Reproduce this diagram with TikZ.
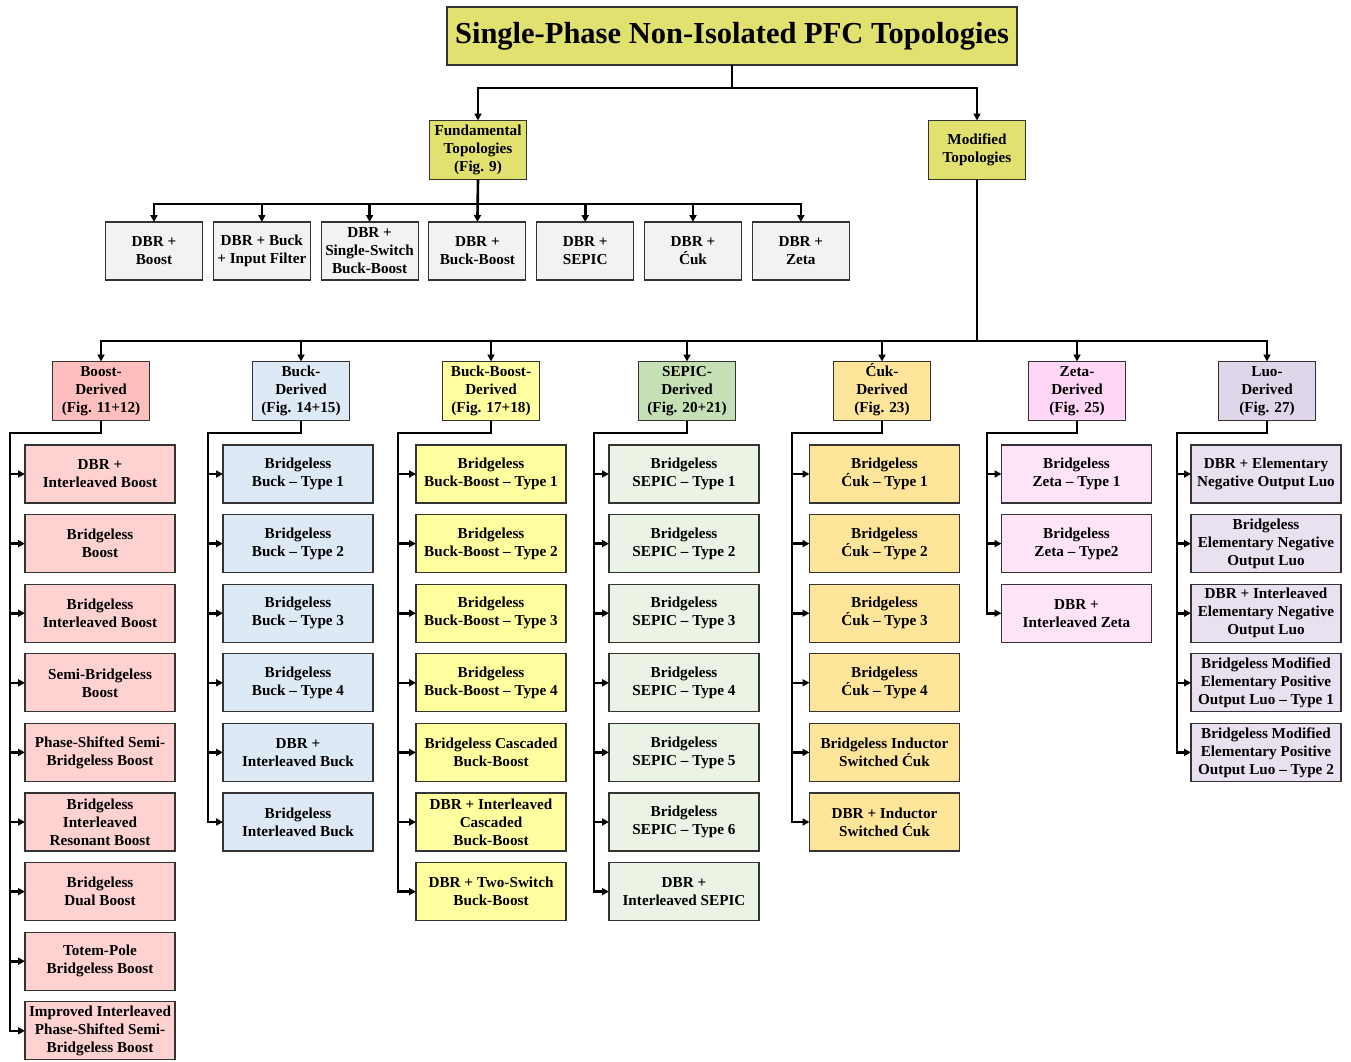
\documentclass[tikz,border=0pt]{standalone}
\usepackage{fontspec}
\setmainfont{Liberation Serif}
\usepackage{xcolor}
\usetikzlibrary{arrows.meta,positioning}

\definecolor{topfill}{RGB}{225,225,112}
\definecolor{fundfill}{RGB}{242,242,242}
\definecolor{boostcat}{RGB}{255,190,190}
\definecolor{boostfill}{RGB}{255,210,210}
\definecolor{buckfill}{RGB}{222,233,246}
\definecolor{bbfill}{RGB}{255,255,160}
\definecolor{sepiccat}{RGB}{197,224,180}
\definecolor{sepicfill}{RGB}{235,243,229}
\definecolor{cukfill}{RGB}{255,229,153}
\definecolor{zetacat}{RGB}{255,214,245}
\definecolor{zetafill}{RGB}{255,228,248}
\definecolor{luocat}{RGB}{224,214,234}
\definecolor{luofill}{RGB}{233,225,240}

\begin{document}
\begin{tikzpicture}[x=1pt,y=-1pt,
  node distance=11.6pt,
  box/.style={draw=black!80,rectangle,line width=1.1pt,outer sep=0pt,font=\fontsize{15.2}{18}\selectfont\bfseries,align=center,inner sep=1pt},
  header/.style={box,minimum width=97pt,minimum height=59pt},
  leaf/.style={box,minimum width=150pt,minimum height=58pt},
  fundleaf/.style={box,fill=fundfill,minimum width=97pt,minimum height=58pt},
  arr/.style={-{Triangle[length=7pt,width=7pt]},line width=2.6pt},
  line/.style={line width=2.6pt}
]
\useasboundingbox (0,0) rectangle (1351,1061);

% Root
\node[box,fill=topfill,minimum width=570pt,minimum height=58pt,font=\fontsize{30.5}{34}\selectfont\bfseries] (title) at (732,36) {Single-Phase Non-Isolated PFC Topologies};

\node[header,fill=topfill] (fund) at (478,150) {Fundamental\\Topologies\\(Fig. 9)};
\node[header,fill=topfill] (mod) at (977,150) {Modified\\Topologies};

\coordinate (tbus) at (732,88);
\draw[arr] (title.south) -- (tbus) -| (fund.north);
\draw[arr] (tbus) -| (mod.north);

% Fundamental topologies
\node[fundleaf] (f1) at (154,251) {DBR +\\Boost};
\node[fundleaf,right=10.8pt of f1] (f2) {DBR + Buck\\+ Input Filter};
\node[fundleaf,right=10.8pt of f2] (f3) {DBR +\\Single-Switch\\Buck-Boost};
\node[fundleaf,right=10.8pt of f3] (f4) {DBR +\\Buck-Boost};
\node[fundleaf,right=10.8pt of f4] (f5) {DBR +\\SEPIC};
\node[fundleaf,right=10.8pt of f5] (f6) {DBR +\\Ćuk};
\node[fundleaf,right=10.8pt of f6] (f7) {DBR +\\Zeta};

\coordinate (fbus) at (478,204);
\draw[arr] (fund.south) -- (f4.north);
\foreach \n in {f1,f2,f3,f5,f6,f7}
  \draw[arr] (fbus) -| (\n.north);

% Modified topologies: families
\node[header,fill=boostcat] (bcat) at (101,391) {Boost-\\Derived\\(Fig. 11+12)};
\node[header,fill=buckfill] (kcat) at (301,391) {Buck-\\Derived\\(Fig. 14+15)};
\node[header,fill=bbfill] (bbcat) at (491,391) {Buck-Boost-\\Derived\\(Fig. 17+18)};
\node[header,fill=sepiccat] (scat) at (687,391) {SEPIC-\\Derived\\(Fig. 20+21)};
\node[header,fill=cukfill] (ccat) at (882,391) {\smash{Ć}uk-\\Derived\\(Fig. 23)};
\node[header,fill=zetacat] (zcat) at (1077,391) {Zeta-\\Derived\\(Fig. 25)};
\node[header,fill=luocat] (lcat) at (1267,391) {Luo-\\Derived\\(Fig. 27)};

\coordinate (mbus) at (977,341);
\draw[line] (mod.south) -- (mbus);
\foreach \n in {bcat,kcat,bbcat,scat,ccat,zcat,lcat}
  \draw[arr] (mbus) -| (\n.north);

% Boost-derived
\node[leaf,fill=boostfill] (b1) at (100,474) {DBR +\\Interleaved Boost};
\node[leaf,fill=boostfill,below=of b1] (b2) {Bridgeless\\Boost};
\node[leaf,fill=boostfill,below=of b2] (b3) {Bridgeless\\Interleaved Boost};
\node[leaf,fill=boostfill,below=of b3] (b4) {Semi-Bridgeless\\Boost};
\node[leaf,fill=boostfill,below=of b4] (b5) {Phase-Shifted Semi-\\Bridgeless Boost};
\node[leaf,fill=boostfill,below=of b5] (b6) {Bridgeless\\Interleaved\\Resonant Boost};
\node[leaf,fill=boostfill,below=of b6] (b7) {Bridgeless\\Dual Boost};
\node[leaf,fill=boostfill,below=of b7] (b8) {Totem-Pole\\Bridgeless Boost};
\node[leaf,fill=boostfill,below=of b8] (b9) {Improved Interleaved\\Phase-Shifted Semi-\\Bridgeless Boost};

% Buck-derived
\node[leaf,fill=buckfill] (k1) at (298,474) {Bridgeless\\Buck -- Type 1};
\node[leaf,fill=buckfill,below=of k1] (k2) {Bridgeless\\Buck -- Type 2};
\node[leaf,fill=buckfill,below=of k2] (k3) {Bridgeless\\Buck -- Type 3};
\node[leaf,fill=buckfill,below=of k3] (k4) {Bridgeless\\Buck -- Type 4};
\node[leaf,fill=buckfill,below=of k4] (k5) {DBR +\\Interleaved Buck};
\node[leaf,fill=buckfill,below=of k5] (k6) {Bridgeless\\Interleaved Buck};

% Buck-Boost-derived
\node[leaf,fill=bbfill] (bb1) at (491,474) {Bridgeless\\Buck-Boost -- Type 1};
\node[leaf,fill=bbfill,below=of bb1] (bb2) {Bridgeless\\Buck-Boost -- Type 2};
\node[leaf,fill=bbfill,below=of bb2] (bb3) {Bridgeless\\Buck-Boost -- Type 3};
\node[leaf,fill=bbfill,below=of bb3] (bb4) {Bridgeless\\Buck-Boost -- Type 4};
\node[leaf,fill=bbfill,below=of bb4] (bb5) {Bridgeless Cascaded\\Buck-Boost};
\node[leaf,fill=bbfill,below=of bb5] (bb6) {DBR + Interleaved\\Cascaded\\Buck-Boost};
\node[leaf,fill=bbfill,below=of bb6] (bb7) {DBR + Two-Switch\\Buck-Boost};

% SEPIC-derived
\node[leaf,fill=sepicfill] (s1) at (684,474) {Bridgeless\\SEPIC -- Type 1};
\node[leaf,fill=sepicfill,below=of s1] (s2) {Bridgeless\\SEPIC -- Type 2};
\node[leaf,fill=sepicfill,below=of s2] (s3) {Bridgeless\\SEPIC -- Type 3};
\node[leaf,fill=sepicfill,below=of s3] (s4) {Bridgeless\\SEPIC -- Type 4};
\node[leaf,fill=sepicfill,below=of s4] (s5) {Bridgeless\\SEPIC -- Type 5};
\node[leaf,fill=sepicfill,below=of s5] (s6) {Bridgeless\\SEPIC -- Type 6};
\node[leaf,fill=sepicfill,below=of s6] (s7) {DBR +\\Interleaved SEPIC};

% Cuk-derived
\node[leaf,fill=cukfill] (c1) at (884.5,474) {Bridgeless\\Ćuk -- Type 1};
\node[leaf,fill=cukfill,below=of c1] (c2) {Bridgeless\\Ćuk -- Type 2};
\node[leaf,fill=cukfill,below=of c2] (c3) {Bridgeless\\Ćuk -- Type 3};
\node[leaf,fill=cukfill,below=of c3] (c4) {Bridgeless\\Ćuk -- Type 4};
\node[leaf,fill=cukfill,below=of c4] (c5) {Bridgeless Inductor\\Switched Ćuk};
\node[leaf,fill=cukfill,below=of c5] (c6) {DBR + Inductor\\Switched Ćuk};

% Zeta-derived
\node[leaf,fill=zetafill] (z1) at (1076.5,474) {Bridgeless\\Zeta -- Type 1};
\node[leaf,fill=zetafill,below=of z1] (z2) {Bridgeless\\Zeta -- Type2};
\node[leaf,fill=zetafill,below=of z2] (z3) {DBR +\\Interleaved Zeta};

% Luo-derived
\node[leaf,fill=luofill] (l1) at (1266,474) {DBR + Elementary\\Negative Output Luo};
\node[leaf,fill=luofill,below=of l1] (l2) {Bridgeless\\Elementary Negative\\Output Luo};
\node[leaf,fill=luofill,below=of l2] (l3) {DBR + Interleaved\\Elementary Negative\\Output Luo};
\node[leaf,fill=luofill,below=of l3] (l4) {Bridgeless Modified\\Elementary Positive\\Output Luo -- Type 1};
\node[leaf,fill=luofill,below=of l4] (l5) {Bridgeless Modified\\Elementary Positive\\Output Luo -- Type 2};

% Family buses
\coordinate (bbus) at (10,433);
\coordinate (kbus) at (208,433);
\coordinate (bbbus) at (398,433);
\coordinate (sbus) at (594,433);
\coordinate (cbus) at (792,433);
\coordinate (zbus) at (987,433);
\coordinate (lbus) at (1177,433);

\draw[arr] (bcat.south) |- (bbus) |- (b9.west);
\foreach \i in {1,...,8}
  \draw[arr] (bbus |- b\i.west) -- (b\i.west);

\draw[arr] (kcat.south) |- (kbus) |- (k6.west);
\foreach \i in {1,...,5}
  \draw[arr] (kbus |- k\i.west) -- (k\i.west);

\draw[arr] (bbcat.south) |- (bbbus) |- (bb7.west);
\foreach \i in {1,...,6}
  \draw[arr] (bbbus |- bb\i.west) -- (bb\i.west);

\draw[arr] (scat.south) |- (sbus) |- (s7.west);
\foreach \i in {1,...,6}
  \draw[arr] (sbus |- s\i.west) -- (s\i.west);

\draw[arr] (ccat.south) |- (cbus) |- (c6.west);
\foreach \i in {1,...,5}
  \draw[arr] (cbus |- c\i.west) -- (c\i.west);

\draw[arr] (zcat.south) |- (zbus) |- (z3.west);
\foreach \i in {1,2}
  \draw[arr] (zbus |- z\i.west) -- (z\i.west);

\draw[arr] (lcat.south) |- (lbus) |- (l5.west);
\foreach \i in {1,...,4}
  \draw[arr] (lbus |- l\i.west) -- (l\i.west);

\end{tikzpicture}
\end{document}
